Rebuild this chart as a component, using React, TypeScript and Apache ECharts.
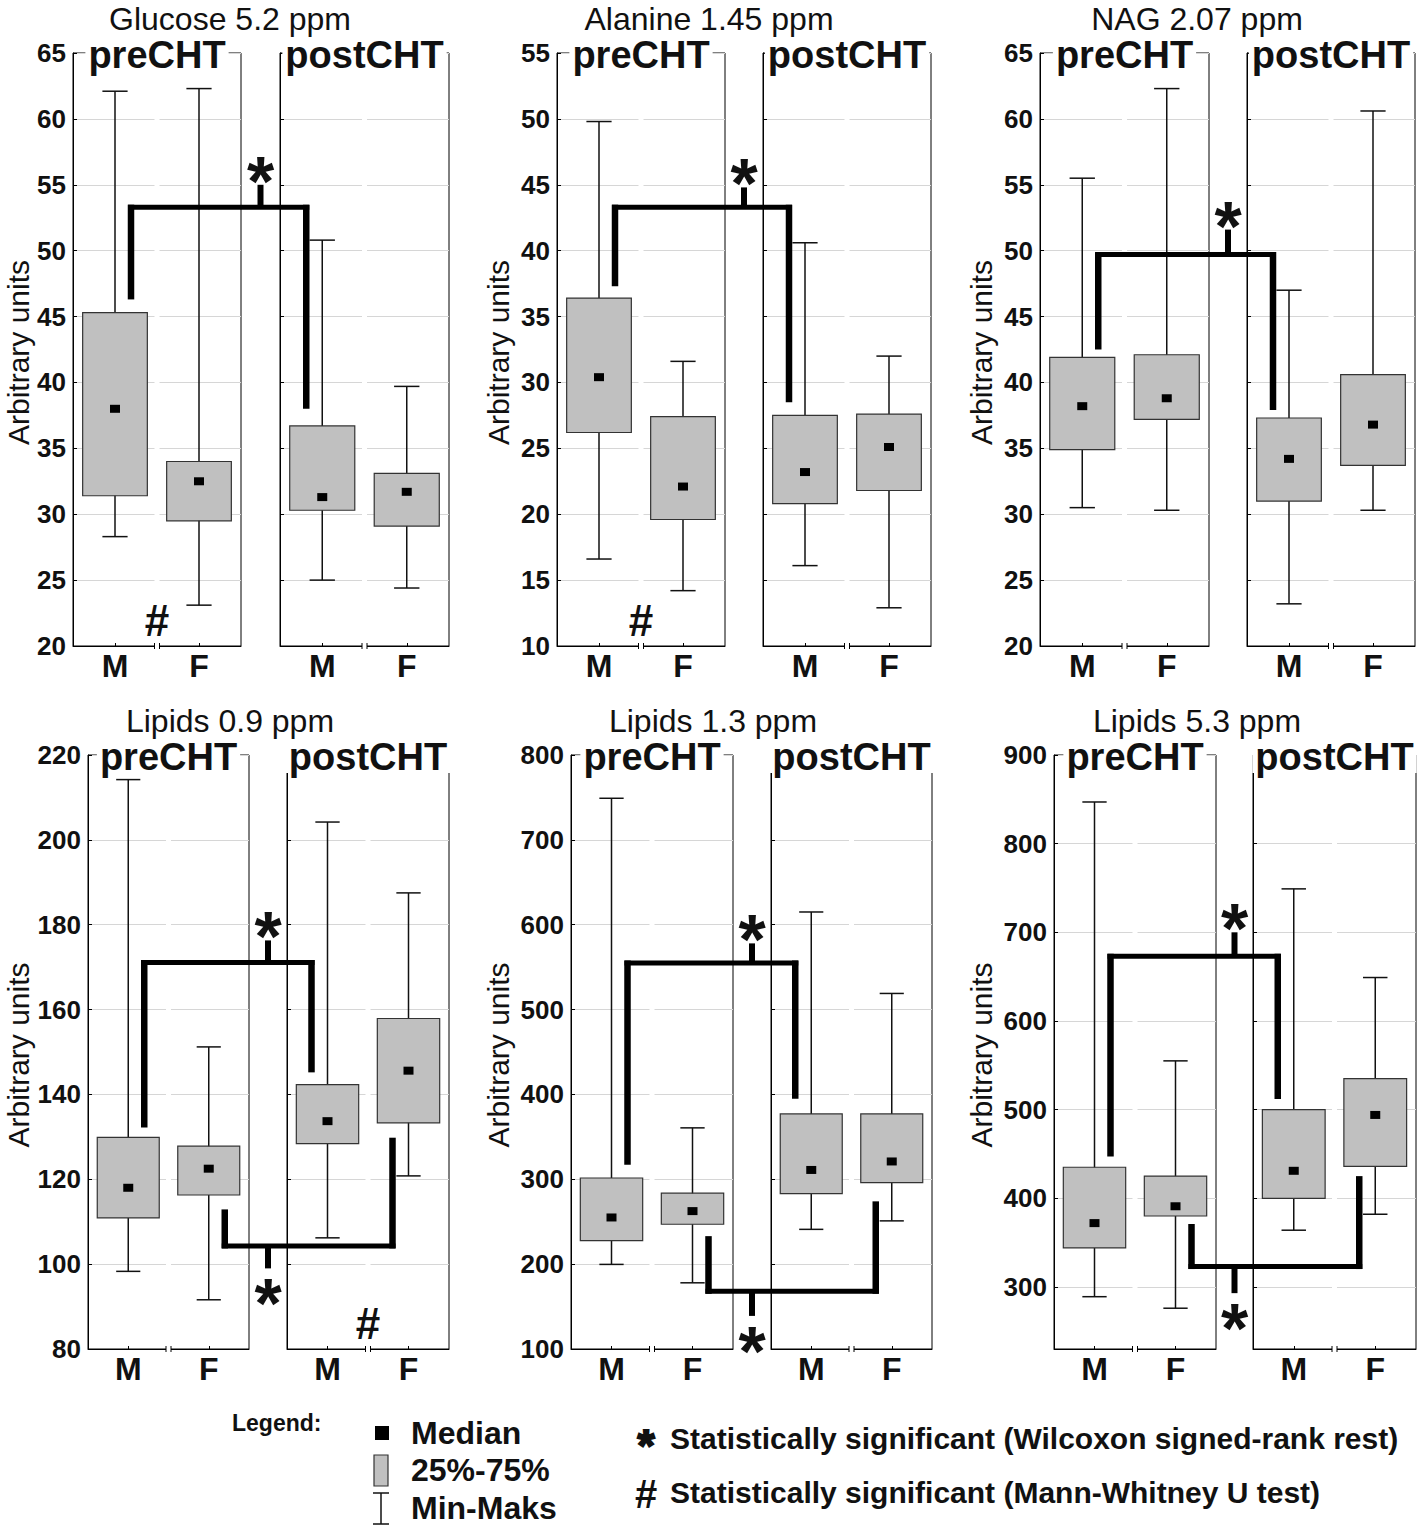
import React, { useEffect, useRef } from 'react';
import * as echarts from 'echarts';

const categories = ['M', 'F'];
const groupNames = ['preCHT', 'postCHT'];
const panelTitles = ['Glucose 5.2 ppm', 'Alanine 1.45 ppm', 'NAG 2.07 ppm', 'Lipids 0.9 ppm', 'Lipids 1.3 ppm', 'Lipids 5.3 ppm'];
const yAxisName = 'Arbitrary units';
const yMins = [20, 10, 20, 80, 100, 230];
const yMaxs = [65, 55, 65, 220, 800, 900];
const yIntervals: (number | null)[] = [5, 5, 5, 20, 100, null];

// [min, q25, median, q75, max] for preCHT M, preCHT F, postCHT M, postCHT F
const glucoseStats = [
  [28.3, 31.4, 38.0, 45.3, 62.1],
  [23.1, 29.5, 32.5, 34.0, 62.3],
  [25.0, 30.3, 31.3, 36.7, 50.8],
  [24.4, 29.1, 31.7, 33.1, 39.7],
];
const alanineStats = [
  [16.6, 26.2, 30.4, 36.4, 49.8],
  [14.2, 19.6, 22.1, 27.4, 31.6],
  [16.1, 20.8, 23.2, 27.5, 40.6],
  [12.9, 21.8, 25.1, 27.6, 32.0],
];
const nagStats = [
  [30.5, 34.9, 38.2, 41.9, 55.5],
  [30.3, 37.2, 38.8, 42.1, 62.3],
  [23.2, 31.0, 34.2, 37.3, 47.0],
  [30.3, 33.7, 36.8, 40.6, 60.6],
];
const lipids09Stats = [
  [98.3, 110.9, 118.0, 129.9, 214.2],
  [91.6, 116.3, 122.5, 127.8, 151.2],
  [106.2, 128.4, 133.7, 142.3, 204.2],
  [120.8, 133.3, 145.6, 157.9, 187.5],
];
const lipids13Stats = [
  [199.7, 227.6, 255, 301.5, 749],
  [178, 247, 262.5, 283.6, 360.6],
  [241, 283, 311, 377, 615],
  [251, 296, 321, 377, 519],
];
const lipids53Stats = [
  [289, 344, 372, 435, 847],
  [276, 380, 391, 425, 555],
  [364, 400, 431, 500, 749],
  [382, 436, 494, 535, 649],
];
const panelStats = [glucoseStats, alanineStats, nagStats, lipids09Stats, lipids13Stats, lipids53Stats];

// significance brackets: [fromGroup, fromCat, toGroup, toCat, level, fromEnd, toEnd, stubEnd]
const glucoseBrackets = [[0, 0, 1, 0, 53.3, 46.3, 38.0, 55.0]];
const alanineBrackets = [[0, 0, 1, 0, 43.3, 37.3, 28.5, 44.8]];
const nagBrackets = [[0, 0, 1, 0, 49.7, 42.5, 37.9, 51.6]];
const lipids09Brackets = [[0, 0, 1, 0, 171.1, 132.2, 145.2, 176.3], [0, 1, 1, 1, 104.3, 112.9, 129.8, 99.0]];
const lipids13Brackets = [[0, 0, 1, 0, 555, 317, 395, 578], [0, 1, 1, 1, 168, 233, 274, 139]];
const lipids53Brackets = [[0, 0, 1, 0, 673, 447, 512, 700], [0, 1, 1, 1, 323, 371, 425, 293]];
const panelBrackets = [glucoseBrackets, alanineBrackets, nagBrackets, lipids09Brackets, lipids13Brackets, lipids53Brackets];

// Mann-Whitney marks: [group, value]
const panelHashes = [[[0, 21.9]], [[0, 11.9]], [], [[1, 86.1]], [], []];

const legendTitle = 'Legend:';
const legendItems = ['Median', '25%-75%', 'Min-Maks'];
const noteSymbols = ['*', '#'];
const noteTexts = [
  'Statistically significant (Wilcoxon signed-rank rest)',
  'Statistically significant (Mann-Whitney U test)',
];

// layout (pixels)
const LAYOUT = [
  { top: 53, height: 593, lefts: [73, 280], widths: [168, 169], titleX: 230, nameX: 18 },
  { top: 53, height: 593, lefts: [557, 763], widths: [168, 168], titleX: 709, nameX: 498 },
  { top: 53, height: 593, lefts: [1040, 1247], widths: [169, 168], titleX: 1197, nameX: 981 },
  { top: 755, height: 594, lefts: [88, 287], widths: [161, 162], titleX: 230, nameX: 18 },
  { top: 755, height: 594, lefts: [571, 771], widths: [162, 161], titleX: 713, nameX: 498 },
  { top: 755, height: 594, lefts: [1054, 1253], widths: [162, 163], titleX: 1197, nameX: 981 },
];

const FONT = '"Liberation Sans", Arial, Helvetica, sans-serif';
const BOX_FILL = '#c0c0c0';

function renderBox(params: any, api: any) {
  const cat = api.value(0);
  const x = api.coord([cat, api.value(3)])[0];
  const band = api.size([1, 0])[0];
  const yMin = api.coord([cat, api.value(1)])[1];
  const yQ1 = api.coord([cat, api.value(2)])[1];
  const yMed = api.coord([cat, api.value(3)])[1];
  const yQ3 = api.coord([cat, api.value(4)])[1];
  const yMax = api.coord([cat, api.value(5)])[1];
  const bw = band * 0.77;
  const cw = band * 0.3;
  const ls = { stroke: '#111', lineWidth: 1.5 };
  return {
    type: 'group',
    children: [
      { type: 'line', shape: { x1: x, y1: yMax, x2: x, y2: yMin }, style: ls },
      { type: 'line', shape: { x1: x - cw / 2, y1: yMax, x2: x + cw / 2, y2: yMax }, style: ls },
      { type: 'line', shape: { x1: x - cw / 2, y1: yMin, x2: x + cw / 2, y2: yMin }, style: ls },
      {
        type: 'rect',
        shape: { x: x - bw / 2, y: yQ3, width: bw, height: yQ1 - yQ3 },
        style: { fill: BOX_FILL, stroke: '#333', lineWidth: 1.2 },
      },
      { type: 'rect', shape: { x: x - 5, y: yMed - 4, width: 10, height: 8 }, style: { fill: '#000' } },
    ],
  };
}

function txt(x: number, y: number, text: string, font: string, align = 'center', vAlign = 'middle', extra: any = {}) {
  const { style: extraStyle, ...rest } = extra;
  return {
    type: 'text',
    x,
    y,
    z: 100,
    ...rest,
    style: {
      text,
      font,
      fill: '#111',
      align,
      verticalAlign: vAlign,
      textAlign: align,
      textVerticalAlign: vAlign,
      ...(extraStyle || {}),
    },
  };
}

// the glyph "*" sits high in its em box: shift the anchor down so the star is centred on centerY
function asterisk(x: number, centerY: number, size: number, extraStyle: any = {}) {
  return txt(x, centerY + size * 0.2, '*', `bold ${size}px ${FONT}`, 'center', 'middle', {
    style: { lineHeight: size * 0.5, ...extraStyle },
  });
}

export default function App() {
  const ref = useRef<HTMLDivElement>(null);
  useEffect(() => {
    document.body.style.margin = '0';
    const chart = echarts.init(ref.current!, null, { renderer: 'svg' });
    const grids: any[] = [];
    const xAxes: any[] = [];
    const yAxes: any[] = [];
    const series: any[] = [];
    LAYOUT.forEach((pl, p) => {
      [0, 1].forEach((g) => {
        const gi = p * 2 + g;
        grids.push({
          left: pl.lefts[g],
          top: pl.top,
          width: pl.widths[g],
          height: pl.height,
          show: true,
          borderColor: '#000',
          borderWidth: 1,
          backgroundColor: 'transparent',
          containLabel: false,
          outerBoundsMode: 'none',
        });
        xAxes.push({
          type: 'category',
          gridIndex: gi,
          data: categories,
          boundaryGap: true,
          axisLine: { show: true, lineStyle: { color: '#000', width: 1 } },
          axisTick: { show: true, alignWithLabel: true, inside: true, length: 3, lineStyle: { color: '#000' } },
          axisLabel: { show: true, color: '#111', fontFamily: FONT, fontWeight: 'bold', fontSize: 32, margin: 4 },
          splitLine: { show: false },
        });
        const yAx: any = {
          type: 'value',
          gridIndex: gi,
          min: yMins[p],
          max: yMaxs[p],
          splitNumber: 7,
          axisLine: { show: true, lineStyle: { color: '#000', width: 1 } },
          axisTick: { show: true, inside: true, length: 4, lineStyle: { color: '#000' } },
          axisLabel: {
            show: g === 0,
            color: '#111',
            fontFamily: FONT,
            fontWeight: 'bold',
            fontSize: 26,
            margin: 7,
            formatter: (v: number) => (yIntervals[p] === null && v % 100 !== 0 ? '' : String(v)),
          },
          splitLine: { show: true, lineStyle: { color: '#d6d6d6', width: 1 } },
        };
        if (yIntervals[p] !== null) yAx.interval = yIntervals[p];
        yAxes.push(yAx);
        const st = panelStats[p];
        series.push({
          type: 'custom',
          xAxisIndex: gi,
          yAxisIndex: gi,
          renderItem: renderBox,
          encode: { x: 0, y: [1, 2, 3, 4, 5] },
          data: [
            [0, ...st[g * 2]],
            [1, ...st[g * 2 + 1]],
          ],
          z: 3,
        });
      });
    });
    chart.setOption({ animation: false, backgroundColor: '#fff', grid: grids, xAxis: xAxes, yAxis: yAxes, series });

    const px = (gi: number, cat: number, v: number) => chart.convertToPixel({ gridIndex: gi } as any, [cat, v]) as number[];
    const els: any[] = [];
    LAYOUT.forEach((pl, p) => {
      const bottom = pl.top + pl.height;
      // panel title
      els.push(txt(pl.titleX, pl.top - 34, panelTitles[p], `32px ${FONT}`, 'center', 'middle', { style: { lineHeight: 28 } }));
      // y axis name
      els.push(txt(pl.nameX, pl.top + pl.height / 2 + 3, yAxisName, `30px ${FONT}`, 'center', 'middle', { rotation: Math.PI / 2 }));
      [0, 1].forEach((g) => {
        const gi = p * 2 + g;
        const cx = pl.lefts[g] + pl.widths[g] / 2;
        els.push(
          txt(cx, pl.top + 2, groupNames[g], `bold 38px ${FONT}`, 'center', 'middle', {
            style: { backgroundColor: '#fff', padding: [0, 3, 0, 3], lineHeight: 32 },
          })
        );
        // category boundary break
        const bx = (px(gi, 0, yMins[p])[0] + px(gi, 1, yMins[p])[0]) / 2;
        els.push({ type: 'rect', z: 1, shape: { x: bx - 2.5, y: pl.top + 1, width: 5, height: pl.height }, style: { fill: '#fff' } });
        els.push({ type: 'line', z: 100, shape: { x1: bx - 2.5, y1: bottom - 3, x2: bx - 2.5, y2: bottom + 3 }, style: { stroke: '#000', lineWidth: 1 } });
        els.push({ type: 'line', z: 100, shape: { x1: bx + 2.5, y1: bottom - 3, x2: bx + 2.5, y2: bottom + 3 }, style: { stroke: '#000', lineWidth: 1 } });
      });
      const stubX = (pl.lefts[0] + pl.widths[0] + pl.lefts[1]) / 2;
      panelBrackets[p].forEach(([g1, c1, g2, c2, level, e1, e2, stub]) => {
        const gi1 = p * 2 + g1;
        const gi2 = p * 2 + g2;
        const x1 = px(gi1, c1, level)[0] + 16;
        const x2 = px(gi2, c2, level)[0] - 16;
        const yL = px(gi1, c1, level)[1];
        const y1 = px(gi1, c1, e1)[1];
        const y2 = px(gi2, c2, e2)[1];
        const ys = px(gi1, c1, stub)[1];
        const up = stub > level;
        const dir = up ? 1 : -1;
        els.push({ type: 'line', z: 100, shape: { x1: x1 - 3, y1: yL, x2: x2 + 3, y2: yL }, style: { stroke: '#000', lineWidth: 5 } });
        els.push({ type: 'line', z: 100, shape: { x1, y1: yL - 2.5 * dir, x2: x1, y2: y1 }, style: { stroke: '#000', lineWidth: 6.5 } });
        els.push({ type: 'line', z: 100, shape: { x1: x2, y1: yL - 2.5 * dir, x2, y2: y2 }, style: { stroke: '#000', lineWidth: 6.5 } });
        els.push({ type: 'line', z: 100, shape: { x1: stubX, y1: yL, x2: stubX, y2: ys }, style: { stroke: '#000', lineWidth: 6 } });
        els.push(asterisk(stubX, up ? ys - 17 : ys + 22, 70));
      });
      panelHashes[p].forEach(([g, v]) => {
        const gi = p * 2 + g;
        const hx = (px(gi, 0, v)[0] + px(gi, 1, v)[0]) / 2;
        els.push(txt(hx, px(gi, 0, v)[1], '#', `bold 44px ${FONT}`, 'center', 'middle', { style: { lineHeight: 36 } }));
      });
    });

    // legend
    els.push(txt(232, 1423, legendTitle, `bold 23px ${FONT}`, 'left'));
    els.push({ type: 'rect', z: 100, shape: { x: 375, y: 1426, width: 14, height: 14 }, style: { fill: '#000' } });
    els.push({ type: 'rect', z: 100, shape: { x: 374, y: 1455, width: 14, height: 31 }, style: { fill: BOX_FILL, stroke: '#333', lineWidth: 1.2 } });
    els.push({ type: 'line', z: 100, shape: { x1: 381, y1: 1493, x2: 381, y2: 1524 }, style: { stroke: '#111', lineWidth: 1.5 } });
    els.push({ type: 'line', z: 100, shape: { x1: 373, y1: 1493, x2: 389, y2: 1493 }, style: { stroke: '#111', lineWidth: 1.5 } });
    els.push({ type: 'line', z: 100, shape: { x1: 373, y1: 1524, x2: 389, y2: 1524 }, style: { stroke: '#111', lineWidth: 1.5 } });
    const legendYs = [1433, 1470, 1508];
    legendItems.forEach((t, i) => els.push(txt(411, legendYs[i], t, `bold 32px ${FONT}`, 'left', 'middle', { style: { lineHeight: 34 } })));
    const noteYs = [1437, 1494];
    els.push(asterisk(646, noteYs[0], 44, { stroke: '#111', lineWidth: 2 }));
    els.push(txt(646, noteYs[1], noteSymbols[1], `bold 40px ${FONT}`, 'center', 'middle', { style: { lineHeight: 34 } }));
    noteTexts.forEach((t, i) => els.push(txt(670, i === 0 ? 1438 : 1492, t, `bold 30px ${FONT}`, 'left', 'middle', { style: { lineHeight: 34 } })));

    chart.setOption({ graphic: { elements: els } });
    return () => chart.dispose();
  }, []);
  return <div ref={ref} style={{ width: 1418, height: 1528 }} />;
}
